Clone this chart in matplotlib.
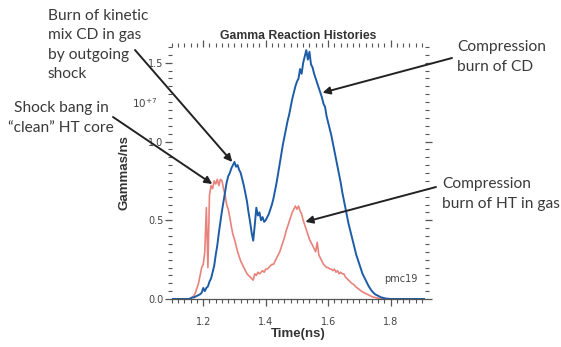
import numpy as np
import matplotlib
matplotlib.use("Agg")
import matplotlib.pyplot as plt
from matplotlib.ticker import MultipleLocator

# ---------------- data ----------------
t_start = 1.150
t_step = 0.005

cd_burn = [0.00, 0.00, 0.005, 0.01, 0.01, 0.015, 0.02, 0.025, 0.03, 0.04,
           0.07, 0.05, 0.07, 0.08, 0.11, 0.13, 0.17, 0.21, 0.28, 0.34,
           0.42, 0.49, 0.56, 0.62, 0.68, 0.74, 0.78, 0.80, 0.83, 0.85,
           0.87, 0.84, 0.85, 0.82, 0.80, 0.76, 0.72, 0.67, 0.62, 0.55,
           0.49, 0.42, 0.37, 0.47, 0.58, 0.53, 0.55, 0.50, 0.52, 0.49,
           0.50, 0.52, 0.54, 0.57, 0.60, 0.64, 0.69, 0.74, 0.80, 0.86,
           0.92, 0.98, 1.03, 1.08, 1.13, 1.17, 1.22, 1.27, 1.31, 1.35,
           1.38, 1.40, 1.46, 1.43, 1.50, 1.54, 1.58, 1.52, 1.57, 1.49,
           1.47, 1.43, 1.40, 1.37, 1.34, 1.31, 1.28, 1.24, 1.22, 1.16,
           1.12, 1.08, 1.04, 0.99, 0.94, 0.89, 0.84, 0.79, 0.74, 0.68,
           0.63, 0.58, 0.53, 0.48, 0.44, 0.40, 0.36, 0.32, 0.28, 0.25,
           0.22, 0.19, 0.16, 0.14, 0.12, 0.10, 0.08, 0.065, 0.05, 0.04,
           0.03, 0.025, 0.02, 0.015, 0.01, 0.008, 0.005, 0.003, 0.002, 0.001,
           0.0, 0.0, 0.0, 0.0, 0.0]

ht_burn = [0.00, 0.00, 0.005, 0.01, 0.02, 0.04, 0.07, 0.10, 0.15, 0.20,
           0.22, 0.30, 0.58, 0.20, 0.66, 0.72, 0.70, 0.75, 0.73, 0.76,
           0.72, 0.76, 0.75, 0.70, 0.66, 0.60, 0.57, 0.52, 0.46, 0.41,
           0.38, 0.34, 0.30, 0.27, 0.24, 0.22, 0.20, 0.18, 0.16, 0.15,
           0.14, 0.13, 0.12, 0.16, 0.15, 0.17, 0.16, 0.17, 0.18, 0.17,
           0.19, 0.19, 0.20, 0.21, 0.22, 0.22, 0.24, 0.26, 0.28, 0.30,
           0.33, 0.36, 0.39, 0.43, 0.46, 0.49, 0.52, 0.55, 0.57, 0.59,
           0.57, 0.59, 0.56, 0.54, 0.50, 0.47, 0.44, 0.41, 0.38, 0.36,
           0.34, 0.32, 0.30, 0.36, 0.28, 0.26, 0.24, 0.22, 0.21, 0.20,
           0.20, 0.19, 0.19, 0.18, 0.19, 0.17, 0.18, 0.16, 0.17, 0.16,
           0.16, 0.14, 0.13, 0.12, 0.11, 0.10, 0.095, 0.085, 0.075, 0.067,
           0.06, 0.052, 0.045, 0.04, 0.035, 0.03, 0.025, 0.02, 0.015, 0.012,
           0.01, 0.007, 0.005, 0.003, 0.002, 0.0, 0.0, 0.0, 0.0, 0.0,
           0.0, 0.0, 0.0, 0.0, 0.0]

time_ns = np.round(t_start + t_step * np.arange(len(cd_burn)), 3)
# flat zero baseline outside the measured window
time_full = np.concatenate([[1.10], time_ns, [1.91]])
cd_full = np.concatenate([[0.0], cd_burn, [0.0]])
ht_full = np.concatenate([[0.0], ht_burn, [0.0]])

x_major = [1.2, 1.4, 1.6, 1.8]
y_major = [0.0, 0.5, 1.0, 1.5]

blue = "#1d5ca6"
red = "#e8837c"

# ---------------- figure ----------------
fig = plt.figure(figsize=(5.61, 3.47), dpi=100)
ax = fig.add_axes([172 / 561, 1 - 299 / 347, (425 - 172) / 561, (299 - 47) / 347])

ax.plot(time_full, ht_full, color=red, lw=1.2)
ax.plot(time_full, cd_full, color=blue, lw=1.4)

ax.set_xlim(1.10, 1.91)
ax.set_ylim(0, 1.6)

for s in ["left", "right", "top"]:
    ax.spines[s].set_visible(False)
ax.spines["bottom"].set_color("#555555")
ax.spines["bottom"].set_linewidth(0.9)

ax.set_xticks(x_major)
ax.set_xticklabels([f"{v:.1f}" for v in x_major])
ax.set_yticks(y_major)
ax.set_yticklabels([f"{v:.1f}" for v in y_major])
ax.xaxis.set_minor_locator(MultipleLocator(0.02))
ax.yaxis.set_minor_locator(MultipleLocator(0.05))
ax.tick_params(axis="both", which="both", direction="out", colors="#555555",
               labelcolor="#444444", labelsize=7, top=True, right=True)
ax.tick_params(axis="both", which="major", length=5, width=0.9)
ax.tick_params(axis="both", which="minor", length=3, width=0.8)
ax.tick_params(axis="x", which="both", pad=8)
ax.tick_params(axis="y", which="both", pad=1)

ax.set_title("Gamma Reaction Histories", fontsize=8.8, fontweight="bold",
             color="#333333", pad=6, family="Liberation Sans")
ax.set_xlabel("Time(ns)", fontsize=9.5, fontweight="bold", color="#333333",
              family="Liberation Sans", labelpad=1)
ax.set_ylabel("Gammas/ns", fontsize=9.5, fontweight="bold", color="#333333",
              family="Liberation Sans", labelpad=13)

fig.text(145 / 561, 1 - 103 / 347, r"10$^{+7}$", fontsize=7.5, color="#444444",
         ha="center", va="center")
ax.text(0.97, 0.06, "pmc19", transform=ax.transAxes, fontsize=7,
        color="#444444", ha="right", va="bottom")

# ---------------- annotations ----------------
afont = dict(family="Lato", fontsize=11.2, color="#3a3a3a")
ls = 1.48

fig.text(48, 347 - 45, "Burn of kinetic\nmix CD in gas\nby outgoing\nshock",
         transform=None, ha="left", va="center", linespacing=ls, **afont)
fig.text(61, 347 - 118, "Shock bang in\n\u201cclean\u201d HT core",
         transform=None, ha="center", va="center", multialignment="center",
         linespacing=ls, **afont)
fig.text(457, 347 - 57, "Compression\nburn of CD",
         transform=None, ha="left", va="center", linespacing=ls, **afont)
fig.text(442, 347 - 194, "Compression\nburn of HT in gas",
         transform=None, ha="left", va="center", linespacing=ls, **afont)

arrow_kw = dict(arrowstyle="-|>", color="#222222", lw=1.4, mutation_scale=11,
                shrinkA=0, shrinkB=0)
arrows = [
    ((1.293, 0.87), (135, 347 - 50)),
    ((1.229, 0.73), (113, 347 - 117)),
    ((1.582, 1.31), (452, 347 - 58)),
    ((1.527, 0.49), (436, 347 - 187)),
]
for xy, xyt in arrows:
    ax.annotate("", xy=xy, xycoords="data", xytext=xyt,
                textcoords="figure pixels", arrowprops=arrow_kw,
                annotation_clip=False)

fig.savefig("out.png", dpi=100)
